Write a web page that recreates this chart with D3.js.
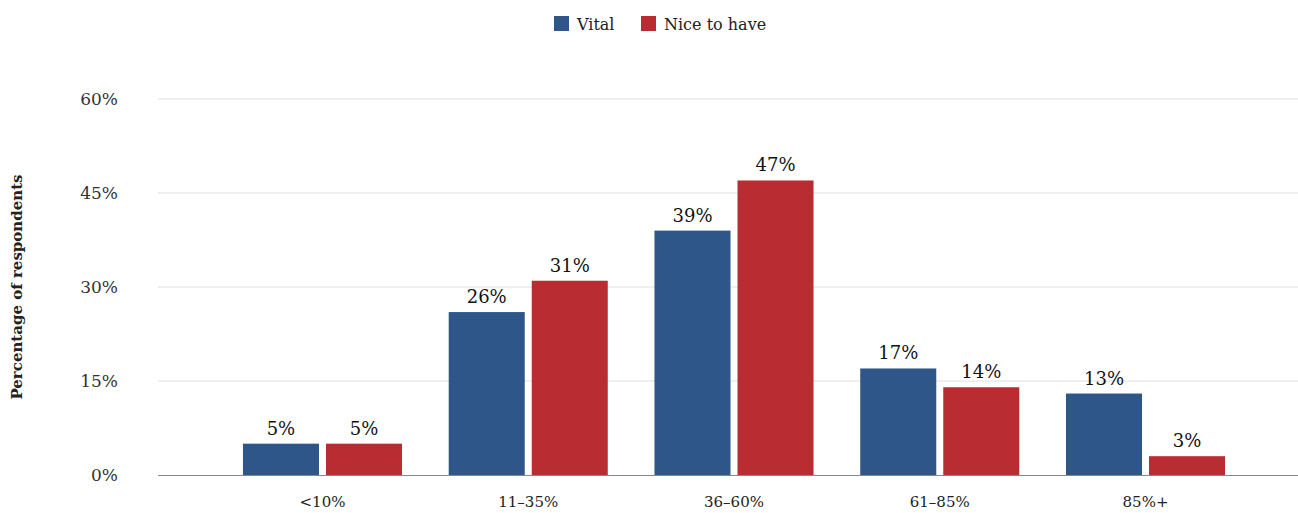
<!DOCTYPE html>
<html><head><meta charset="utf-8">
<script src="https://cdn.jsdelivr.net/npm/d3@7"></script>
<style>body{margin:0;background:#fff;} text{font-family:"DejaVu Serif","Liberation Serif",serif;}</style>
</head><body>
<svg id="c" width="1298" height="513"></svg>
<script>
const categories = ["<10%", "11–35%", "36–60%", "61–85%", "85%+"];
const seriesNames = ["Vital", "Nice to have"];
const vital = [5, 26, 39, 17, 13];
const niceToHave = [5, 31, 47, 14, 3];
const yTicks = [0, 15, 30, 45, 60];
const colors = ["#2e5689", "#b92d32"];

const svg = d3.select("#c");
const x = d3.scaleBand().domain(categories).range([219.6, 1248.4]).paddingInner(0.227).paddingOuter(0.1135);
const xs = d3.scaleBand().domain(seriesNames).range([0, x.bandwidth()]).paddingInner(0.0843);
const y = d3.scaleLinear().domain([0, 60]).range([475, 99]);

// grid
svg.append("g").selectAll("line").data(yTicks.filter(t=>t>0)).join("line")
  .attr("x1",158).attr("x2",1298).attr("y1",d=>y(d)).attr("y2",d=>y(d))
  .attr("stroke","#e0e0e0").attr("stroke-width",1);

// y labels
svg.append("g").selectAll("text").data(yTicks).join("text")
  .attr("x",118).attr("y",d=>y(d)).attr("dy","0.35em").attr("text-anchor","end")
  .attr("font-size",17).attr("fill","#333").text(d=>d+"%");

// axis title
svg.append("text").attr("transform","translate(22,287) rotate(-90)")
  .attr("text-anchor","middle").attr("font-size",15).attr("font-weight","bold").attr("fill","#222")
  .text("Percentage of respondents");

const data = categories.map((c,i)=>({c, vals:[vital[i], niceToHave[i]]}));
const groups = svg.append("g").selectAll("g").data(data).join("g")
  .attr("transform",d=>`translate(${x(d.c)},0)`);
groups.selectAll("rect").data(d=>d.vals.map((v,j)=>({v,s:seriesNames[j],j}))).join("rect")
  .attr("x",d=>xs(d.s)).attr("width",xs.bandwidth())
  .attr("y",d=>y(d.v)).attr("height",d=>y(0)-y(d.v)).attr("fill",d=>colors[d.j]);
groups.selectAll("text.v").data(d=>d.vals.map((v,j)=>({v,s:seriesNames[j],j}))).join("text")
  .attr("class","v").attr("x",d=>xs(d.s)+xs.bandwidth()/2).attr("y",d=>y(d.v)-9)
  .attr("text-anchor","middle").attr("font-size",18).attr("fill","#111").text(d=>d.v+"%");

// baseline
svg.append("line").attr("x1",158).attr("x2",1298).attr("y1",y(0)+0.5).attr("y2",y(0)+0.5)
  .attr("stroke","#888").attr("stroke-width",1);

// x labels
svg.append("g").selectAll("text").data(categories).join("text")
  .attr("x",d=>x(d)+x.bandwidth()/2).attr("y",507).attr("text-anchor","middle")
  .attr("font-size",15).attr("fill","#222").text(d=>d);

// legend
const leg = svg.append("g");
const legX = [554, 641];
seriesNames.forEach((n,i)=>{
  leg.append("rect").attr("x",legX[i]).attr("y",16).attr("width",15).attr("height",15).attr("fill",colors[i]);
  leg.append("text").attr("x",legX[i]+23).attr("y",24).attr("dy","0.35em").attr("font-size",16).attr("fill","#222").text(n);
});
</script>
</body></html>
